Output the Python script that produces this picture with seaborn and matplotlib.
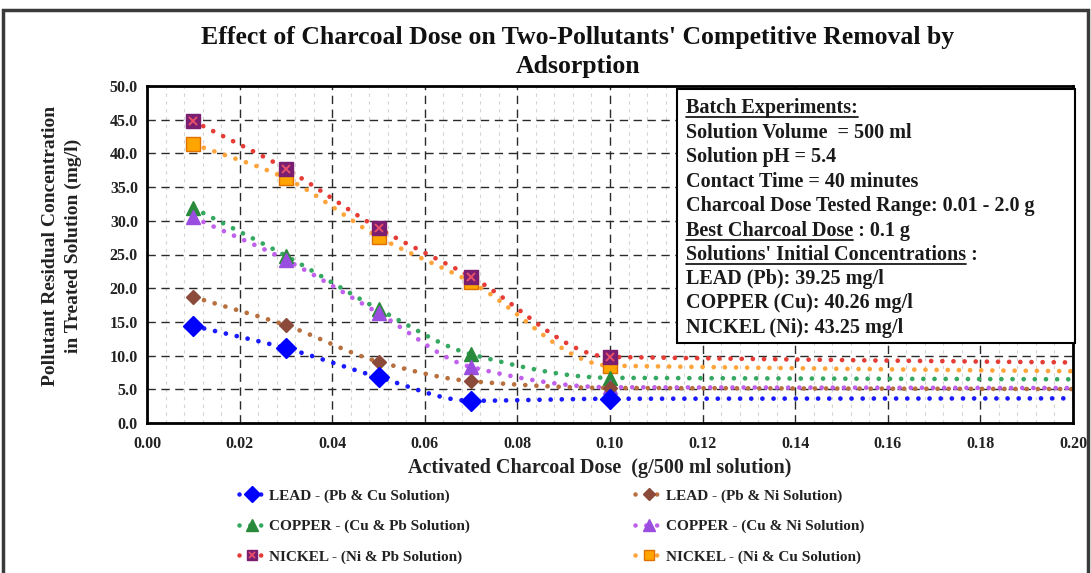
import numpy as np
import pandas as pd
import matplotlib
matplotlib.use("Agg")
import matplotlib.pyplot as plt
import seaborn as sns
from matplotlib.lines import Line2D
from matplotlib.patches import Rectangle
from matplotlib.legend_handler import HandlerTuple
from matplotlib.ticker import MultipleLocator, FormatStrFormatter

# ---------------- data ----------------
dose = [0.01, 0.03, 0.05, 0.07, 0.10, 0.50, 1.00, 2.00]
lead_pb_cu = [14.4, 11.1, 6.8, 3.3, 3.6, 3.7, 3.7, 3.7]
lead_pb_ni = [18.7, 14.5, 9.1, 6.2, 5.2, 4.9, 4.9, 4.9]
copper_cu_pb = [31.9, 24.8, 16.9, 10.2, 6.7, 6.3, 6.3, 6.3]
copper_cu_ni = [30.5, 24.2, 16.3, 8.3, 5.3, 5.1, 5.1, 5.1]
nickel_ni_pb = [44.8, 37.7, 28.9, 21.7, 9.8, 8.3, 8.3, 8.3]
nickel_ni_cu = [41.4, 36.3, 27.6, 20.9, 8.5, 7.0, 7.0, 7.0]

labels = ["LEAD - (Pb & Cu Solution)", "LEAD - (Pb & Ni Solution)",
          "COPPER - (Cu & Pb Solution)", "COPPER - (Cu & Ni Solution)",
          "NICKEL - (Ni & Pb Solution)", "NICKEL - (Ni & Cu Solution)"]
x_ticks = [0.00, 0.02, 0.04, 0.06, 0.08, 0.10, 0.12, 0.14, 0.16, 0.18, 0.20]
y_ticks = [0, 5, 10, 15, 20, 25, 30, 35, 40, 45, 50]

title = "Effect of Charcoal Dose on Two-Pollutants' Competitive Removal by\nAdsorption"
xlabel = "Activated Charcoal Dose  (g/500 ml solution)"
ylabel = "Pollutant Residual Concentration\nin Treated Solution (mg/l)"

info_lines = [
    ("Batch Experiments:", "Batch Experiments:"),
    ("Solution Volume  = 500 ml", None),
    ("Solution pH = 5.4", None),
    ("Contact Time = 40 minutes", None),
    ("Charcoal Dose Tested Range: 0.01 - 2.0 g", None),
    ("Best Charcoal Dose : 0.1 g", "Best Charcoal Dose"),
    ("Solutions' Initial Concentrations :", "Solutions' Initial Concentrations"),
    ("LEAD (Pb): 39.25 mg/l", None),
    ("COPPER (Cu): 40.26 mg/l", None),
    ("NICKEL (Ni): 43.25 mg/l", None),
]

series = [lead_pb_cu, lead_pb_ni, copper_cu_pb, copper_cu_ni, nickel_ni_pb, nickel_ni_cu]

# styles
line_colors = ["#1a1aff", "#b8703e", "#35a862", "#c060ec", "#e63c36", "#ffa43a"]
mk_face = ["#0000ff", "#8c4a3a", "#2a8a3c", "#9a4ee0", "#7a1e72", "#ffa500"]
mk_edge = ["#0000ff", "#8c4a3a", "#2a8a3c", "#9a4ee0", "#7a1e72", "#e07000"]
mk_shape = ["D", "D", "^", "^", "s", "s"]
mk_size = [10.5, 7.5, 10, 10, 9.5, 9.5]

SERIF = "Liberation Serif"


def pchip(x, y, xn):
    x = np.asarray(x, float)
    y = np.asarray(y, float)
    h = np.diff(x)
    d = np.diff(y) / h
    n = len(x)
    m = np.zeros(n)
    for k in range(1, n - 1):
        if d[k - 1] * d[k] > 0:
            w1 = 2 * h[k] + h[k - 1]
            w2 = h[k] + 2 * h[k - 1]
            m[k] = (w1 + w2) / (w1 / d[k - 1] + w2 / d[k])
    m[0] = d[0]
    m[-1] = d[-1]
    idx = np.clip(np.searchsorted(x, xn) - 1, 0, n - 2)
    hh = h[idx]
    t = (xn - x[idx]) / hh
    h00 = 2 * t**3 - 3 * t**2 + 1
    h10 = t**3 - 2 * t**2 + t
    h01 = -2 * t**3 + 3 * t**2
    h11 = t**3 - t**2
    return h00 * y[idx] + h10 * hh * m[idx] + h01 * y[idx + 1] + h11 * hh * m[idx + 1]


sns.set_theme(style="white")
plt.rcParams["font.family"] = [SERIF, "DejaVu Serif"]
plt.rcParams["font.weight"] = "bold"

W, H = 1091, 573
fig = plt.figure(figsize=(W / 100, H / 100), dpi=100)
fig.patch.set_facecolor("white")


def fx(px):
    return px / W


def fy(py):
    return 1 - py / H


ax = fig.add_axes([fx(147), fy(423), fx(1073) - fx(147), fy(86) - fy(423)])
ax.set_facecolor("white")

xn = np.linspace(0.01, 0.30, 800)
order = [5, 4, 2, 3, 1, 0]
dotted = (0, (0.01, 2.35))
for i in order:
    yv = pchip(dose, series[i], xn)
    df = pd.DataFrame({"x": xn, "y": yv})
    sns.lineplot(data=df, x="x", y="y", ax=ax, color=line_colors[i], lw=3.4,
                 linestyle=dotted, dash_capstyle="round", sort=False,
                 estimator=None, zorder=3, legend=False)
for i in order:
    dfp = pd.DataFrame({"x": dose, "y": series[i]})
    ax.plot(dfp["x"], dfp["y"], linestyle="none", marker=mk_shape[i],
            markersize=mk_size[i], markerfacecolor=mk_face[i],
            markeredgecolor=mk_edge[i], markeredgewidth=1.0, zorder=5, clip_on=True)
    if i == 4:
        ax.plot(dfp["x"], dfp["y"], linestyle="none", marker="x", markersize=6,
                markeredgecolor="#e8506a", markeredgewidth=1.4, zorder=6)

ax.set_xlim(0, 0.20)
ax.set_ylim(0, 50)
ax.set_xticks(x_ticks)
ax.set_yticks(y_ticks)
ax.xaxis.set_minor_locator(MultipleLocator(0.004))
ax.xaxis.set_major_formatter(FormatStrFormatter("%.2f"))
ax.yaxis.set_major_formatter(FormatStrFormatter("%.1f"))

ax.grid(True, which="major", axis="both", color="#2a2a2a", linestyle=(0, (6, 4)), lw=1.0, zorder=1)
ax.grid(True, which="minor", axis="x", color="#d4d4d4", linestyle=(0, (3, 4)), lw=0.8, zorder=0)

for s in ax.spines.values():
    s.set_color("black")
    s.set_linewidth(2.0)
    s.set_zorder(10)

ax.tick_params(axis="both", which="major", direction="inout", length=7, width=1.5,
               color="black", labelsize=11.5, pad=3)
ax.tick_params(axis="x", which="minor", direction="inout", length=5, width=1.2, color="black")
ax.tick_params(axis="x", which="major", pad=6)
for lab in ax.get_xticklabels() + ax.get_yticklabels():
    lab.set_fontweight("bold")
    lab.set_color("#222222")

ax.set_xlabel("")
ax.set_ylabel("")

fig.text(fx(600), fy(468), xlabel, ha="center", va="center", fontsize=14.5,
         fontweight="bold", color="#222222")
fig.text(fx(62), fy(246), ylabel, ha="center", va="center", rotation=90,
         fontsize=14, fontweight="bold", color="#222222", linespacing=1.45)
fig.text(fx(578), fy(52), title, ha="center", va="center", fontsize=18.5,
         fontweight="bold", color="#111111", linespacing=1.32)

# info box
fig.patches.append(Rectangle((fx(677), fy(343)), fx(1075) - fx(677), fy(89) - fy(343),
                             transform=fig.transFigure, facecolor="white",
                             edgecolor="black", lw=1.5, zorder=20))
ys = [108, 133, 157, 182, 206, 231, 255, 279, 303, 328]
fig.canvas.draw()
renderer = fig.canvas.get_renderer()
FS_INFO = 14.5
for (txt, ul), yy in zip(info_lines, ys):
    t = fig.text(fx(686), fy(yy), txt, ha="left", va="center", fontsize=FS_INFO,
                 fontweight="bold", color="#1a1a1a", zorder=21)
    if ul:
        tmp = fig.text(fx(686), fy(yy), ul, ha="left", va="center", fontsize=FS_INFO,
                       fontweight="bold")
        bb = tmp.get_window_extent(renderer)
        tmp.remove()
        uy = fy(yy + 9)
        fig.add_artist(Line2D([fx(686), bb.x1 / W], [uy, uy], transform=fig.transFigure,
                              color="#1a1a1a", lw=1.3, zorder=21))

# legend
handles = []
for i in range(6):
    ln = Line2D([], [], color=line_colors[i], lw=3.3, linestyle=dotted,
                dash_capstyle="round", marker=mk_shape[i], markersize=mk_size[i] * 0.8,
                markerfacecolor=mk_face[i], markeredgecolor=mk_edge[i])
    if i == 4:
        xm = Line2D([], [], linestyle="none", marker="x", markersize=5,
                    markeredgecolor="#e8506a", markeredgewidth=1.3)
        handles.append((ln, xm))
    else:
        handles.append(ln)
leg_order = [0, 2, 4, 1, 3, 5]
leg = fig.legend([handles[k] for k in leg_order], [labels[k] for k in leg_order],
                 loc="upper left", bbox_to_anchor=(fx(225), fy(475)), ncol=2,
                 frameon=False, handlelength=1.75, handletextpad=0.25, numpoints=1,
                 columnspacing=10.8, labelspacing=1.1,
                 handler_map={tuple: HandlerTuple(ndivide=1)},
                 prop={"family": SERIF, "weight": "bold", "size": 11})
for t in leg.get_texts():
    t.set_color("#222222")

# outer border
fig.patches.append(Rectangle((fx(3), -0.05), fx(1088) - fx(3), fy(10) + 0.05,
                             transform=fig.transFigure, facecolor="none",
                             edgecolor="#3a3a3a", lw=2.5, zorder=30))

fig.savefig("out.png", dpi=100, facecolor="white")
